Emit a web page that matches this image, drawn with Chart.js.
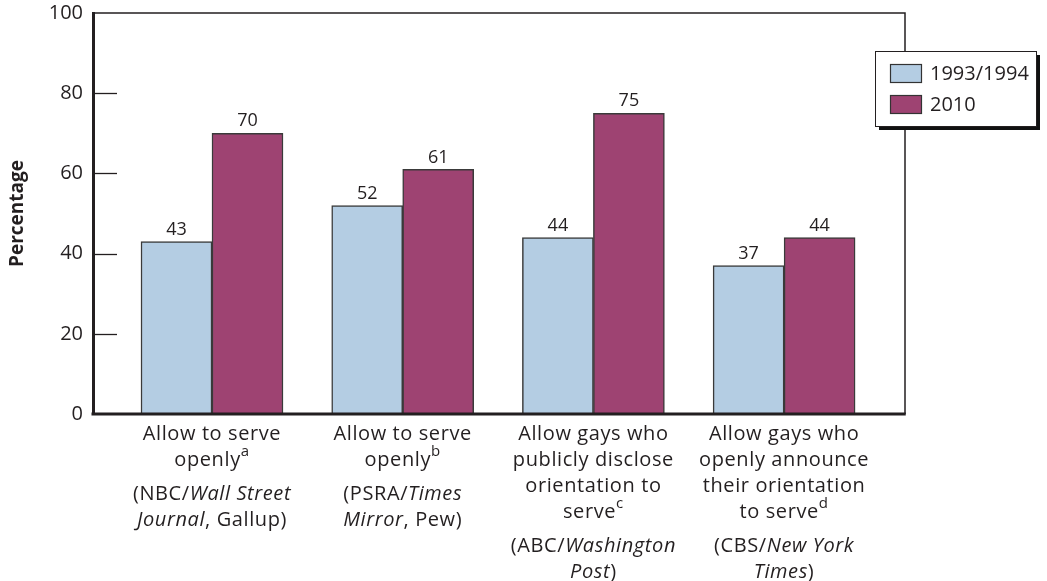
<!DOCTYPE html>
<html>
<head>
<meta charset="utf-8">
<script src="https://cdn.jsdelivr.net/npm/chart.js@4/dist/chart.umd.min.js"></script>
<style>
  html, body { margin: 0; padding: 0; background: #fff; }
  #wrap { width: 1047px; height: 581px; position: relative; }
</style>
</head>
<body>
<div id="wrap"><canvas id="chart1"></canvas></div>
<script>
// data
const seriesNames = ['1993/1994', '2010'];
const values1994 = [43, 52, 44, 37];
const values2010 = [70, 61, 75, 44];
const categoryPositions = [1, 2, 3, 4];
// _text_ = italic, ^x = superscript
const categoryLabels = [
  ['Allow to serve', 'openly^a'],
  ['Allow to serve', 'openly^b'],
  ['Allow gays who', 'publicly disclose', 'orientation to', 'serve^c'],
  ['Allow gays who', 'openly announce', 'their orientation', 'to serve^d'],
];
const categorySources = [
  ['(NBC/_Wall Street_', '_Journal_, Gallup)'],
  ['(PSRA/_Times_', '_Mirror_, Pew)'],
  ['(ABC/_Washington_', '_Post_)'],
  ['(CBS/_New York_', '_Times_)'],
];
const yTicks = [0, 20, 40, 60, 80, 100];

const colors = ['#b4cde3', '#9e4372'];
const ink = '#231f20';
const FONT = '"Open Sans", "Noto Sans", sans-serif';

// split a line into styled pieces
function parseLine(line) {
  var segs = [];
  var italic = false;
  var buf = '';
  for (var i = 0; i < line.length; i++) {
    var c = line[i];
    if (c === '_') {
      if (buf) segs.push({ text: buf, italic: italic, sup: false });
      buf = '';
      italic = !italic;
    } else if (c === '^') {
      if (buf) segs.push({ text: buf, italic: italic, sup: false });
      buf = '';
      segs.push({ text: line.slice(i + 1), italic: false, sup: true });
      break;
    } else {
      buf += c;
    }
  }
  if (buf) segs.push({ text: buf, italic: italic, sup: false });
  return segs;
}

function segFont(s) {
  if (s.sup) return '15px ' + FONT;
  return (s.italic ? 'italic ' : '') + '20px ' + FONT;
}

function drawRichLine(ctx, line, cx, cy) {
  var segs = parseLine(line);
  var total = 0;
  segs.forEach(function (s) {
    ctx.font = segFont(s);
    s.w = ctx.measureText(s.text).width;
    total += s.w;
  });
  var x = cx - total / 2;
  segs.forEach(function (s) {
    ctx.font = segFont(s);
    ctx.fillText(s.text, x, s.sup ? cy - 8 : cy);
    x += s.w;
  });
}

const extrasPlugin = {
  id: 'extras',
  afterDatasetsDraw(chart) {
    const ctx = chart.ctx;
    const area = chart.chartArea;
    const y = chart.scales.y;
    const x = chart.scales.x;
    ctx.save();

    // top and right frame
    ctx.strokeStyle = ink;
    ctx.lineWidth = 1.5;
    ctx.beginPath();
    ctx.moveTo(area.left, area.top);
    ctx.lineTo(area.right, area.top);
    ctx.lineTo(area.right, area.bottom);
    ctx.stroke();

    // bottom axis line
    ctx.lineWidth = 3;
    ctx.beginPath();
    ctx.moveTo(area.left - 1.5, area.bottom);
    ctx.lineTo(area.right + 0.75, area.bottom);
    ctx.stroke();

    // inner tick marks
    ctx.lineWidth = 1.3;
    yTicks.forEach(function (v) {
      if (v === 0 || v === 100) return;
      var py = Math.round(y.getPixelForValue(v)) + 0.5;
      ctx.beginPath();
      ctx.moveTo(area.left, py);
      ctx.lineTo(area.left + 24, py);
      ctx.stroke();
    });

    // value labels
    ctx.fillStyle = ink;
    ctx.font = '18px ' + FONT;
    ctx.textAlign = 'center';
    ctx.textBaseline = 'bottom';
    chart.data.datasets.forEach(function (ds, i) {
      chart.getDatasetMeta(i).data.forEach(function (el, j) {
        ctx.fillText(String(ds.data[j].y), el.x, el.y - 3);
      });
    });

    // category labels
    ctx.textAlign = 'left';
    ctx.textBaseline = 'middle';
    ctx.letterSpacing = '0.6px';
    categoryPositions.forEach(function (pos, k) {
      var cx = x.getPixelForValue(pos);
      var cy = area.bottom + 20;
      categoryLabels[k].forEach(function (line) {
        drawRichLine(ctx, line, cx, cy);
        cy += 26;
      });
      cy += 8;
      categorySources[k].forEach(function (line) {
        drawRichLine(ctx, line, cx, cy);
        cy += 26;
      });
    });
    ctx.letterSpacing = '0px';

    // legend box
    var bx = area.right - 30, by = area.top + 38, bw = 161, bh = 75;
    ctx.fillStyle = '#111';
    ctx.fillRect(bx + 4, by + 4, bw, bh);
    ctx.fillStyle = '#fff';
    ctx.fillRect(bx, by, bw, bh);
    ctx.strokeStyle = ink;
    ctx.lineWidth = 1;
    ctx.strokeRect(bx + 0.5, by + 0.5, bw, bh);
    ctx.font = '20px ' + FONT;
    chart.data.datasets.forEach(function (ds, i) {
      var sy = by + 13 + i * 31;
      ctx.fillStyle = ds.backgroundColor;
      ctx.fillRect(bx + 15, sy, 32, 19);
      ctx.strokeStyle = '#333';
      ctx.lineWidth = 1.2;
      ctx.strokeRect(bx + 15.5, sy + 0.5, 31, 18);
      ctx.fillStyle = ink;
      ctx.fillText(ds.label, bx + 55, sy + 10);
    });
    ctx.restore();
  },
};

function points(vals) {
  return vals.map(function (v, i) { return { x: categoryPositions[i], y: v }; });
}

var ctx = document.getElementById('chart1').getContext('2d');
new Chart(ctx, {
  type: 'bar',
  data: {
    datasets: [
      {
        label: seriesNames[0],
        data: points(values1994),
        backgroundColor: colors[0],
        borderColor: '#3a3a3a',
        borderWidth: 1.5,
        barThickness: 71,
      },
      {
        label: seriesNames[1],
        data: points(values2010),
        backgroundColor: colors[1],
        borderColor: '#3a3a3a',
        borderWidth: 1.5,
        barThickness: 71,
      },
    ],
  },
  options: {
    responsive: true,
    maintainAspectRatio: false,
    animation: false,
    layout: { padding: { top: 13, right: 142, left: 0, bottom: 0 } },
    plugins: {
      legend: { display: false },
      tooltip: { enabled: false },
    },
    scales: {
      x: {
        type: 'linear',
        offset: false,
        min: 0.376,
        max: 4.634,
        ticks: { display: false },
        grid: { display: false, offset: false },
        border: { display: false },
        afterFit: function (scale) {
          scale.height = 167;
          scale.paddingLeft = 0;
          scale.paddingRight = 0;
        },
      },
      y: {
        min: 0,
        max: 100,
        afterBuildTicks: function (scale) {
          scale.ticks = yTicks.map(function (v) { return { value: v }; });
        },
        ticks: {
          color: ink,
          padding: 10,
          font: { family: FONT, size: 20 },
        },
        grid: { display: true, drawOnChartArea: false, drawTicks: false },
        border: { display: true, color: ink, width: 3 },
        title: {
          display: true,
          text: 'Percentage',
          color: ink,
          font: { family: FONT, size: 19, weight: 'bold' },
          padding: { top: 6, bottom: 0 },
        },
        afterFit: function (scale) {
          scale.width = 93;
          scale.paddingTop = 0;
          scale.paddingBottom = 0;
        },
      },
    },
  },
  plugins: [extrasPlugin],
});
</script>
</body>
</html>
